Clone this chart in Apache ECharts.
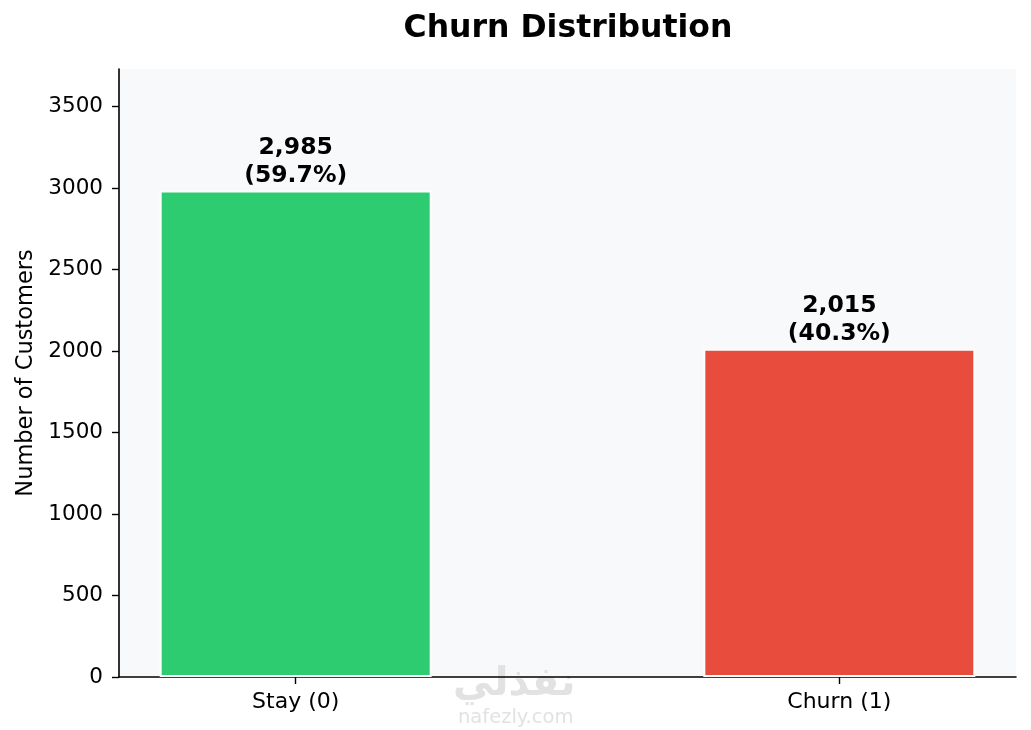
<!DOCTYPE html>
<html>
<head>
<meta charset="utf-8">
<script src="https://cdn.jsdelivr.net/npm/echarts@6/dist/echarts.min.js"></script>
<style>html,body{margin:0;padding:0;background:#fff}#c{width:1031px;height:730px}</style>
</head>
<body>
<div id="c"></div>
<script>
const categories = ['Stay (0)', 'Churn (1)'];
const counts = [2985, 2015];
const barColors = ['#2ecc71', '#e74c3c'];
const yTicks = [0, 500, 1000, 1500, 2000, 2500, 3000, 3500];

const total = counts.reduce((a, b) => a + b, 0);
const FONT = 'DejaVu Sans';
const chart = echarts.init(document.getElementById('c'), null, {renderer: 'canvas'});
chart.setOption({
  animation: false,
  backgroundColor: '#ffffff',
  title: {
    text: 'Churn Distribution', left: 563, textAlign: 'center', top: 8,
    textStyle: {fontFamily: FONT, fontSize: 31.5, fontWeight: 'bold', color: '#000'}
  },
  grid: {left: 119, right: 15, top: 69, bottom: 53, show: true, backgroundColor: '#f8f9fa', borderWidth: 0},
  xAxis: {
    type: 'value', min: -0.325, max: 1.325,
    splitLine: {show: false},
    axisLine: {show: true, onZero: false, lineStyle: {color: '#000', width: 1.6}},
    axisTick: {show: true, customValues: [0, 1], length: 7, lineStyle: {color: '#000', width: 1.4}},
    axisLabel: {
      customValues: [0, 1], margin: 14,
      formatter: v => categories[Math.round(v)] || '',
      fontFamily: FONT, fontSize: 22, color: '#000'
    }
  },
  yAxis: {
    type: 'value', min: 0, max: 3731.25,
    name: 'Number of Customers', nameLocation: 'middle', nameGap: 76,
    nameTextStyle: {fontFamily: FONT, fontSize: 22.5, color: '#000'},
    splitLine: {show: false},
    axisLine: {show: true, onZero: false, lineStyle: {color: '#000', width: 1.6}},
    axisTick: {show: true, customValues: yTicks, length: 7, lineStyle: {color: '#000', width: 1.4}},
    axisLabel: {customValues: yTicks, margin: 16, formatter: v => String(v), fontFamily: FONT, fontSize: 21.5, color: '#000'}
  },
  series: [{
    type: 'bar',
    barWidth: 272,
    data: counts.map((v, i) => ({
      value: [i, v],
      itemStyle: {color: barColors[i], borderColor: '#ffffff', borderWidth: 2}
    })),
    label: {
      show: true, position: 'top', distance: 1,
      fontFamily: FONT, fontSize: 23.5, fontWeight: 'bold', color: '#000', lineHeight: 28, align: 'center',
      formatter: p => p.value[1].toLocaleString('en-US') + '\n(' + (p.value[1] / total * 100).toFixed(1) + '%)'
    }
  }],
  graphic: [
    {type: 'text', left: 453, top: 665, style: {text: 'نفذلي', fontFamily: 'DejaVu Sans', fontSize: 40, fontWeight: 'bold', fill: '#e2e2e2'}},
    {type: 'text', left: 458, top: 708, style: {text: 'nafezly.com', fontFamily: FONT, fontSize: 19.5, fill: '#e2e2e2'}}
  ]
});
</script>
</body>
</html>
